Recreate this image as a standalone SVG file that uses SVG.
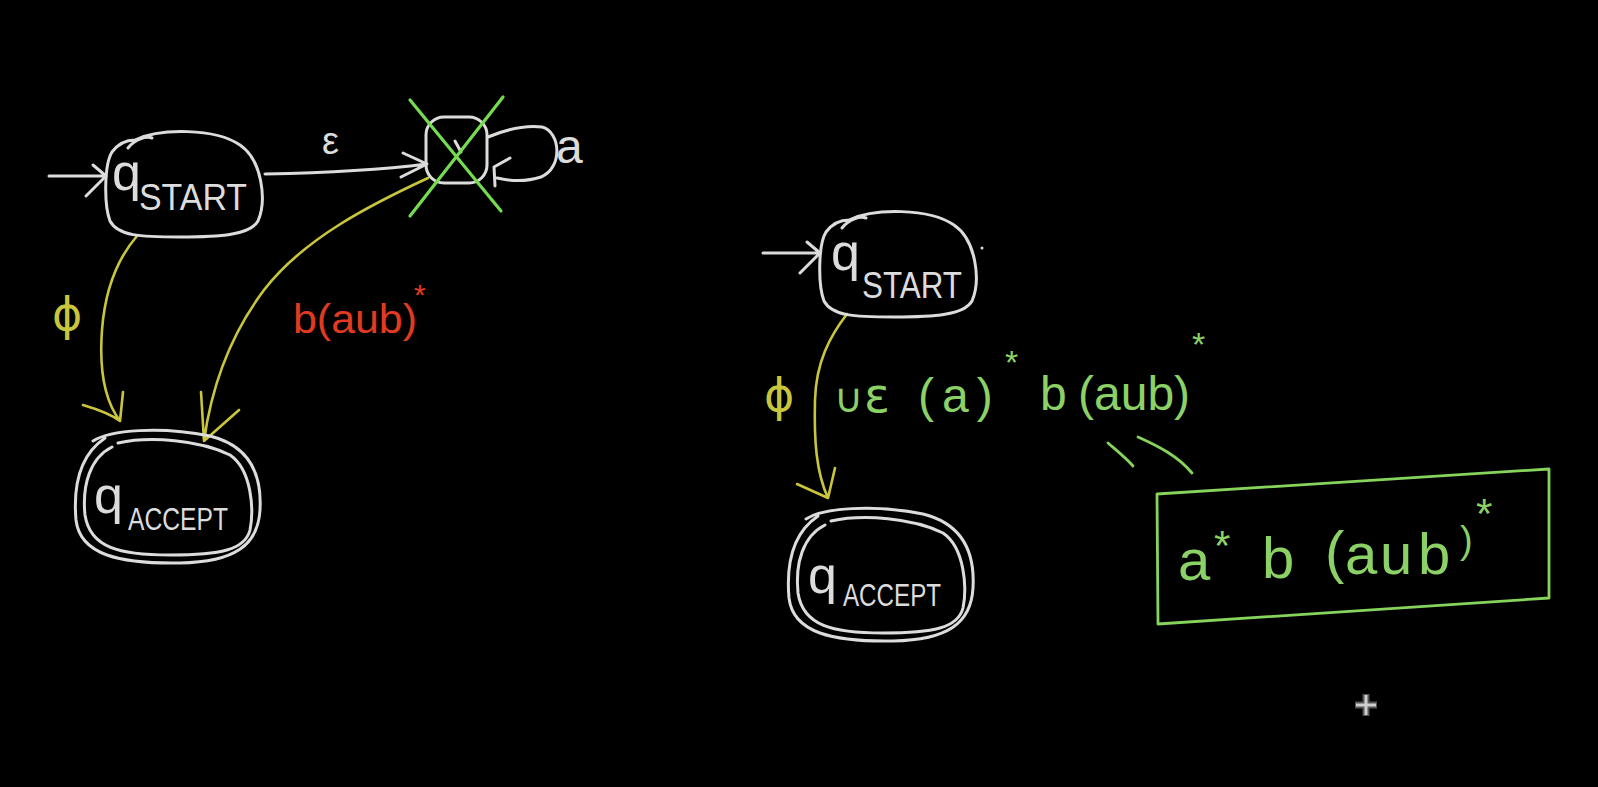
<svg xmlns="http://www.w3.org/2000/svg" width="1598" height="787" viewBox="0 0 1598 787">
<style>
.w{fill:none;stroke:#dcdcdc;stroke-width:3;stroke-linecap:round;stroke-linejoin:round}
.y{fill:none;stroke:#c9c63c;stroke-width:2.6;stroke-linecap:round;stroke-linejoin:round}
.g{fill:none;stroke:#86d45c;stroke-width:2.8;stroke-linecap:round;stroke-linejoin:round}
.gx{fill:none;stroke:#74dc4e;stroke-width:3.2;stroke-linecap:round}
.tw{fill:#dcdcdc;font-family:"Liberation Sans","DejaVu Sans",sans-serif}
.ty{fill:#c9c63c;font-family:"DejaVu Sans","Liberation Sans",sans-serif}
.tg{fill:#8cd165;font-family:"Liberation Sans","DejaVu Sans",sans-serif}
.tr{fill:#e23a20;font-family:"Liberation Sans","DejaVu Sans",sans-serif}
</style>
<rect width="1598" height="787" fill="#000"/>

<g id="connectors">
  <!-- left initial arrow -->
  <path class="w" d="M49,176 L106,176 M93,165 L106,176 L86,196"/>
  <!-- epsilon edge -->
  <path class="w" d="M265,174 C320,173 380,170 427,164 M403,153 L427,164 L401,177"/>
  <!-- self loop -->
  <path class="w" d="M488,137 C505,130 525,125 542,127 C561,132 563,168 541,177 C526,182 510,181 497,178 M510,158 L494,167 L495,186"/>
  <!-- left phi edge -->
  <path class="y" d="M137,236 C118,258 105,290 102,330 C99,370 104,400 120,421 M83,405 C100,410 112,415 120,421 L123,392"/>
  <!-- left b(aub)* edge -->
  <path class="y" d="M428,178 C372,204 304,238 264,290 C228,338 211,390 204,441 M201,392 L204,441 L239,410"/>
  <!-- right initial arrow -->
  <path class="w" d="M763,253 L820,253 M807,242 L820,253 L800,273"/>
  <!-- right phi edge -->
  <path class="y" d="M847,314 C830,336 816,362 815,400 C814,440 816,472 828,498 M797,484 L828,498 L835,468"/>
  <!-- green tick strokes -->
  <path class="g" d="M1108,443 C1116,450 1126,458 1133,466 M1138,437 C1158,446 1178,456 1192,473"/>
</g>

<g id="node-left-start">
  <path class="w" d="M135,140 C160,128 215,128 240,145 C262,160 267,200 258,221 C250,235 220,237 180,237 C140,237 118,236 110,221 C104,205 104,165 112,152 C118,144 125,140 135,140 Z M128,148 C135,139 146,136 152,138"/>
  <text class="tw" x="112" y="190" font-size="52">q</text>
  <text class="tw" x="139" y="210" font-size="36" textLength="108" lengthAdjust="spacingAndGlyphs">START</text>
</g>

<g id="node-crossed">
  <rect class="w" x="426" y="117" width="61" height="66" rx="18"/>
  <path class="w" d="M455,141 L461,152"/>
  <path class="gx" d="M410,100 L501,211 M503,97 L410,216"/>
</g>

<g id="node-left-accept">
  <path class="w" d="M93,441 C110,430 160,426 210,436 C250,446 262,475 260,510 C258,545 235,562 180,563 C120,564 80,555 76,520 C73,485 80,455 105,438"/>
  <path class="w" d="M118,443 C150,436 200,440 230,455 C252,470 254,510 250,530 C245,550 220,555 170,555 C120,555 90,548 85,515 C82,485 90,458 112,447"/>
  <text class="tw" x="94" y="513" font-size="52">q</text>
  <text class="tw" x="128" y="530" font-size="32" textLength="100" lengthAdjust="spacingAndGlyphs">ACCEPT</text>
</g>

<g id="node-right-start" transform="translate(714,80)">
  <path class="w" d="M135,140 C160,128 215,128 240,145 C262,160 267,200 258,221 C250,235 220,237 180,237 C140,237 118,236 110,221 C104,205 104,165 112,152 C118,144 125,140 135,140 Z M128,148 C135,139 146,136 152,138"/>
  <text class="tw" x="117" y="190" font-size="52">q</text>
  <text class="tw" x="148" y="218" font-size="36" textLength="100" lengthAdjust="spacingAndGlyphs">START</text>
  <circle cx="268" cy="168" r="1.5" fill="#dcdcdc"/>
</g>

<g id="node-right-accept" transform="translate(713,78)">
  <path class="w" d="M93,441 C110,430 160,426 210,436 C250,446 262,475 260,510 C258,545 235,562 180,563 C120,564 80,555 76,520 C73,485 80,455 105,438"/>
  <path class="w" d="M118,443 C150,436 200,440 230,455 C252,470 254,510 250,530 C245,550 220,555 170,555 C120,555 90,548 85,515 C82,485 90,458 112,447"/>
  <text class="tw" x="95" y="515" font-size="52">q</text>
  <text class="tw" x="130" y="528" font-size="32" textLength="98" lengthAdjust="spacingAndGlyphs">ACCEPT</text>
</g>

<g id="labels">
  <text class="tw" x="322" y="154" font-size="38" font-family="DejaVu Sans">ε</text>
  <text class="tw" x="556" y="163" font-size="48">a</text>
  <text class="ty" x="52" y="330" font-size="46">ϕ</text>
  <text class="tr" x="293" y="333" font-size="40" textLength="124" lengthAdjust="spacingAndGlyphs">b(aub)</text>
  <text class="tr" x="414" y="305" font-size="30">*</text>
  <text class="ty" x="764" y="411" font-size="46">ϕ</text>
  <text class="tg" font-size="48">
    <tspan x="834" y="412" font-family="DejaVu Sans" font-size="40">∪</tspan>
    <tspan x="864" y="412" font-family="DejaVu Sans">ε</tspan>
    <tspan x="918" y="412" letter-spacing="8">(a)</tspan>
    <tspan x="1005" y="374" font-size="34">*</tspan>
    <tspan x="1040" y="410">b</tspan>
    <tspan x="1078" y="410">(aub)</tspan>
    <tspan x="1192" y="356" font-size="34">*</tspan>
  </text>
</g>

<g id="result-box">
  <path class="g" d="M1157,494 L1549,469 L1549,598 L1158,624 Z"/>
  <text class="tg" font-size="58">
    <tspan x="1178" y="580">a</tspan>
    <tspan x="1214" y="560" font-size="42">*</tspan>
    <tspan x="1262" y="578">b</tspan>
    <tspan x="1325" y="572">(</tspan>
    <tspan x="1345" y="574">a</tspan>
    <tspan x="1380" y="574">u</tspan>
    <tspan x="1418" y="574">b</tspan>
    <tspan x="1460" y="553" font-size="38">)</tspan>
    <tspan x="1476" y="528" font-size="42">*</tspan>
  </text>
</g>

<g id="cursor">
  <path d="M1366,694 L1366,716 M1355,705 L1377,705" stroke="#555" stroke-width="7" fill="none"/>
  <path d="M1366,695 L1366,715 M1356,705 L1376,705" stroke="#cfcfcf" stroke-width="3" fill="none"/>
</g>
</svg>
